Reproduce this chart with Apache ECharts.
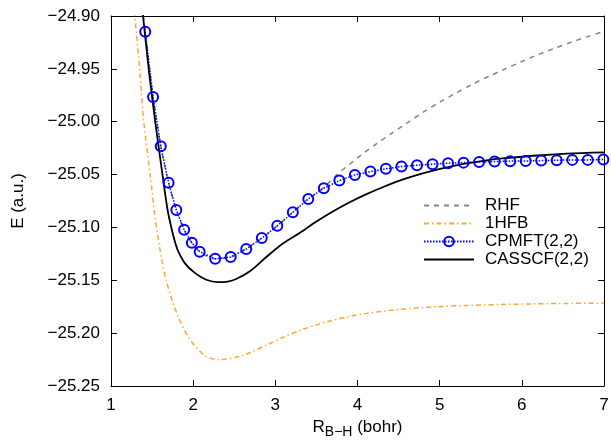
<!DOCTYPE html>
<html>
<head>
<meta charset="utf-8">
<script src="https://cdn.jsdelivr.net/npm/echarts@6/dist/echarts.min.js"></script>
<style>
html,body{margin:0;padding:0;background:#fff;}
#chart{width:611px;height:440px;}
</style>
</head>
<body>
<div id="chart"></div>
<script>
// ---- data (R in bohr, E in a.u.) ----
const seriesNames = ['RHF', '1HFB', 'CPMFT(2,2)', 'CASSCF(2,2)'];

const xTickLabels = ['1', '2', '3', '4', '5', '6', '7'];
const yTickLabels = ['−25.25', '−25.20', '−25.15', '−25.10', '−25.05', '−25.00', '−24.95', '−24.90'];

const cpmftR = [1.417, 1.512, 1.606, 1.701, 1.795, 1.890, 1.984, 2.079, 2.268, 2.457,
  2.646, 2.835, 3.024, 3.213, 3.401, 3.590, 3.779, 3.968, 4.157, 4.346,
  4.535, 4.724, 4.913, 5.102, 5.291, 5.480, 5.669, 5.858, 6.047, 6.236,
  6.425, 6.614, 6.803, 6.992];
const cpmftE = [-24.9149, -24.9767, -25.0232, -25.0578, -25.0835, -25.1023, -25.1146, -25.1230, -25.1297, -25.1280,
  -25.1204, -25.1101, -25.0985, -25.0857, -25.0730, -25.0629, -25.0557, -25.0503, -25.0472, -25.0446,
  -25.0424, -25.0411, -25.0402, -25.0392, -25.0387, -25.0380, -25.0377, -25.0373, -25.0371, -25.0368,
  -25.0364, -25.0361, -25.0361, -25.0358];

const rhfR = [1.380, 1.417, 1.512, 1.606, 1.701, 1.795, 1.890, 1.984, 2.079, 2.268, 2.457,
  2.646, 2.835, 3.024, 3.213, 3.401, 3.590, 3.750, 3.900, 4.070, 4.220,
  4.400, 4.600, 4.800, 5.000, 5.200, 5.400, 5.600, 5.800, 6.000, 6.200,
  6.400, 6.600, 6.800, 7.000];
const rhfE = [-24.890, -24.9149, -24.9767, -25.0232, -25.0578, -25.0835, -25.1023, -25.1146, -25.1230, -25.1297, -25.1280,
  -25.1204, -25.1101, -25.0985, -25.0857, -25.0730, -25.0620, -25.0500, -25.0405, -25.0300, -25.0215,
  -25.0118, -25.0014, -24.9910, -24.9815, -24.9728, -24.9645, -24.9570, -24.9500, -24.9430, -24.9365,
  -24.9305, -24.9248, -24.9195, -24.9145];

const hfbR = [1.25, 1.29, 1.35, 1.40, 1.48, 1.53, 1.59, 1.67, 1.80, 1.96,
  2.16, 2.32, 2.57, 2.72, 2.90, 3.10, 3.30, 3.50, 3.70, 3.90,
  4.11, 4.52, 4.92, 5.33, 5.73, 6.14, 6.55, 7.00];
const hfbE = [-24.860, -24.900, -24.951, -25.001, -25.052, -25.0865, -25.118, -25.1495, -25.181, -25.206,
  -25.222, -25.2251, -25.2220, -25.2175, -25.2110, -25.2038, -25.1975, -25.1922, -25.1878, -25.1843,
  -25.1813, -25.1775, -25.1752, -25.1738, -25.1729, -25.1723, -25.1719, -25.1716];

const casR = [1.36, 1.39, 1.46, 1.54, 1.63, 1.69, 1.74, 1.78, 1.82, 1.90,
  2.02, 2.16, 2.30, 2.42, 2.53, 2.69, 2.89, 3.10, 3.30, 3.50, 3.70,
  3.91, 4.11, 4.32, 4.52, 4.72, 4.92, 5.13, 5.33, 5.53, 5.73,
  6.14, 6.55, 7.00];
const casE = [-24.880, -24.900, -24.951, -25.001, -25.052, -25.084, -25.102, -25.114, -25.123, -25.134,
  -25.143, -25.1495, -25.1518, -25.1512, -25.1485, -25.1415, -25.1280, -25.1148, -25.1050, -25.0945, -25.0850,
  -25.0760, -25.0685, -25.0615, -25.0555, -25.0505, -25.0462, -25.0425, -25.0395, -25.0370, -25.0350,
  -25.0322, -25.0302, -25.0290];

const zip = (xs, ys) => xs.map((x, i) => [x, ys[i]]);

const FONT = 'Liberation Sans';
const xMin = 1, xMax = 7, yMin = -25.25, yMax = -24.90, yStep = 0.05;

const chart = echarts.init(document.getElementById('chart'), null, {renderer: 'canvas'});

const baseAxisLine = {show: true, lineStyle: {color: '#000', width: 1}};
const baseTick = {show: true, inside: true, length: 6, lineStyle: {color: '#000', width: 1}};
const hiddenSymbol = {opacity: 0, color: 'rgba(0,0,0,0)', borderColor: 'rgba(0,0,0,0)', borderWidth: 0};

chart.setOption({
  animation: false,
  backgroundColor: '#fff',
  textStyle: {fontFamily: FONT},
  grid: {left: 111, right: 7, top: 16, bottom: 54, containLabel: false, outerBoundsMode: 'none'},
  legend: {
    data: [
      {name: seriesNames[0], itemStyle: hiddenSymbol},
      {name: seriesNames[1], itemStyle: hiddenSymbol},
      {name: seriesNames[2]},
      {name: seriesNames[3], itemStyle: hiddenSymbol}
    ],
    orient: 'vertical',
    left: 423,
    top: 197,
    padding: 0,
    itemWidth: 50,
    itemHeight: 12,
    itemGap: 1,
    textStyle: {fontFamily: FONT, fontSize: 17, color: '#000', padding: [0, 0, 0, 6]}
  },
  xAxis: [{
    type: 'value', min: xMin, max: xMax, interval: 1, position: 'bottom',
    axisLine: baseAxisLine, axisTick: baseTick, splitLine: {show: false},
    axisLabel: {
      margin: 11, fontFamily: FONT, fontSize: 17, color: '#000',
      formatter: v => xTickLabels[Math.round(v - xMin)]
    },
    name: '{r|R}{s|B−H}{r| (bohr)}',
    nameLocation: 'middle',
    nameGap: 28,
    nameTextStyle: {
      fontFamily: FONT, color: '#000',
      rich: {
        r: {fontFamily: FONT, fontSize: 17, color: '#000'},
        s: {fontFamily: FONT, fontSize: 14, color: '#000', padding: [9, 0, 0, 0]}
      }
    }
  }, {
    type: 'value', min: xMin, max: xMax, interval: 1, position: 'top',
    axisLine: baseAxisLine, axisTick: baseTick, splitLine: {show: false},
    axisLabel: {show: false}
  }],
  yAxis: [{
    type: 'value', min: yMin, max: yMax, interval: yStep, position: 'left',
    axisLine: baseAxisLine, axisTick: baseTick, splitLine: {show: false},
    axisLabel: {
      margin: 11, fontFamily: FONT, fontSize: 17, color: '#000',
      formatter: v => yTickLabels[Math.round((v - yMin) / yStep)]
    },
    name: 'E (a.u.)',
    nameLocation: 'middle',
    nameGap: 84,
    nameTextStyle: {fontFamily: FONT, fontSize: 17, color: '#000'}
  }, {
    type: 'value', min: yMin, max: yMax, interval: yStep, position: 'right',
    axisLine: baseAxisLine, axisTick: baseTick, splitLine: {show: false},
    axisLabel: {show: false}
  }],
  series: [{
    name: seriesNames[0], type: 'line', xAxisIndex: 0, yAxisIndex: 0,
    data: zip(rhfR, rhfE), symbol: 'none', smooth: 0.3, clip: true,
    lineStyle: {color: '#858585', width: 1.5, type: [5, 5]},
    itemStyle: {color: '#858585'}
  }, {
    name: seriesNames[1], type: 'line', xAxisIndex: 0, yAxisIndex: 0,
    data: zip(hfbR, hfbE), symbol: 'none', smooth: 0.3, clip: true,
    lineStyle: {color: '#ffa733', width: 1.5, type: [5, 3, 1.5, 3]},
    itemStyle: {color: '#ffa733'}
  }, {
    name: seriesNames[2], type: 'line', xAxisIndex: 0, yAxisIndex: 0,
    data: zip(cpmftR, cpmftE), symbol: 'circle', symbolSize: 10, showSymbol: true, clip: false,
    lineStyle: {color: '#0000ff', width: 1.5, type: [1.5, 1.5]},
    itemStyle: {color: 'rgba(255,255,255,0)', borderColor: '#0000ff', borderWidth: 2}
  }, {
    name: seriesNames[3], type: 'line', xAxisIndex: 0, yAxisIndex: 0,
    data: zip(casR, casE), symbol: 'none', smooth: 0.3, clip: true,
    lineStyle: {color: '#000', width: 1.8},
    itemStyle: {color: '#000'}
  }]
});
</script>
</body>
</html>
